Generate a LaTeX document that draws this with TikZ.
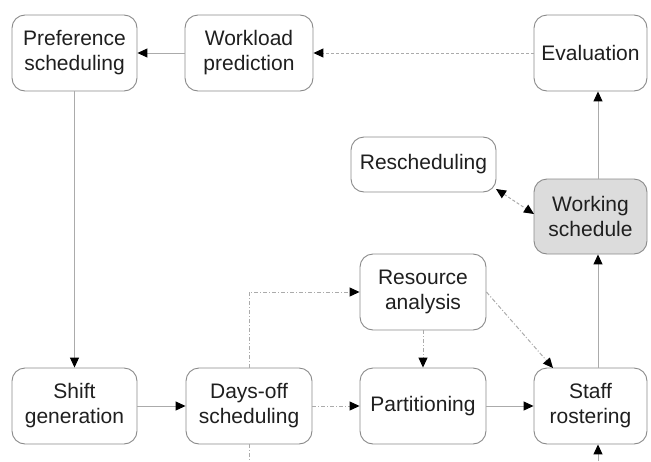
\documentclass[tikz,border=0pt]{standalone}
\usepackage{fontspec}
\setmainfont{Liberation Sans}
\usetikzlibrary{arrows.meta}
\definecolor{boxline}{HTML}{8A8A8A}
\definecolor{conn}{HTML}{ABABAB}
\definecolor{shade}{HTML}{DCDCDC}
\begin{document}
\begin{tikzpicture}[x=1pt,y=-1pt,
  box/.style={draw=boxline,line width=0.9pt,rounded corners=13pt,fill=white,
    align=center,inner sep=0pt,font=\fontsize{21}{25}\selectfont,
    text=black!88},
  link/.style={draw=conn,line width=1pt},
  tip/.style={-{Triangle[length=10pt,width=9pt,color=black]}},
  tips/.style={{Triangle[length=10pt,width=9pt,color=black]}-{Triangle[length=10pt,width=9pt,color=black]}},
  dsh/.style={dash pattern=on 3pt off 2pt},
  dshdot/.style={dash pattern=on 4pt off 2pt on 1pt off 2pt}]
\useasboundingbox (0,0) rectangle (651,461);
% boxes
\node[box,minimum width=125pt,minimum height=76pt] (pref) at (74.5,53) {Preference\\scheduling};
\node[box,minimum width=128pt,minimum height=76pt] (work) at (249,53) {Workload\\prediction};
\node[box,minimum width=113pt,minimum height=76pt] (eval) at (590.5,53) {Evaluation};
\node[box,minimum width=145pt,minimum height=55pt] (resch) at (423.5,164.5) {Rescheduling};
\node[box,fill=shade,minimum width=113pt,minimum height=75pt] (wsch) at (590.5,216.5) {Working\\schedule};
\node[box,minimum width=126pt,minimum height=76pt] (res) at (423,292) {Resource\\analysis};
\node[box,minimum width=125pt,minimum height=76pt] (shift) at (74.5,406) {Shift\\generation};
\node[box,minimum width=126pt,minimum height=76pt] (days) at (249,406) {Days-off\\scheduling};
\node[box,minimum width=126pt,minimum height=76pt] (part) at (423,406) {Partitioning};
\node[box,minimum width=113pt,minimum height=76pt] (staff) at (590.5,406) {Staff\\rostering};
% free ends at the lower border, bend point and landing points
\coordinate (daysout) at (249,461);
\coordinate (staffin) at (598,461);
\coordinate (bend) at (249,292);
\coordinate (stafftop) at (553,368);
\coordinate (reschend) at (496,189);
\coordinate (wschend) at (534,214);
% connectors
\draw[link,tip] (work.west) -- (pref.east);
\draw[link,dsh,tip] (eval.west) -- (work.east);
\draw[link,tip] (pref.south) -- (shift.north);
\draw[link,tip] (shift.east) -- (days.west);
\draw[link,dshdot,tip] (days.east) -- (part.west);
\draw[link,dshdot,tip] (days.north) -- (bend) -- (res.west);
\draw[link,dshdot] (days.south) -- (daysout);
\draw[link,dshdot,tip] (res.south) -- (part.north);
\draw[link,dshdot,tip] (res.east) -- (stafftop);
\draw[link,tip] (part.east) -- (staff.west);
\draw[link,tip] (staff.north -| staffin) -- (wsch.south -| staffin);
\draw[link,tip] (wsch.north -| staffin) -- (eval.south -| staffin);
\draw[link,tip] (staffin) -- (staff.south -| staffin);
\draw[link,dsh,tips] (reschend) -- (wschend);
\end{tikzpicture}
\end{document}
